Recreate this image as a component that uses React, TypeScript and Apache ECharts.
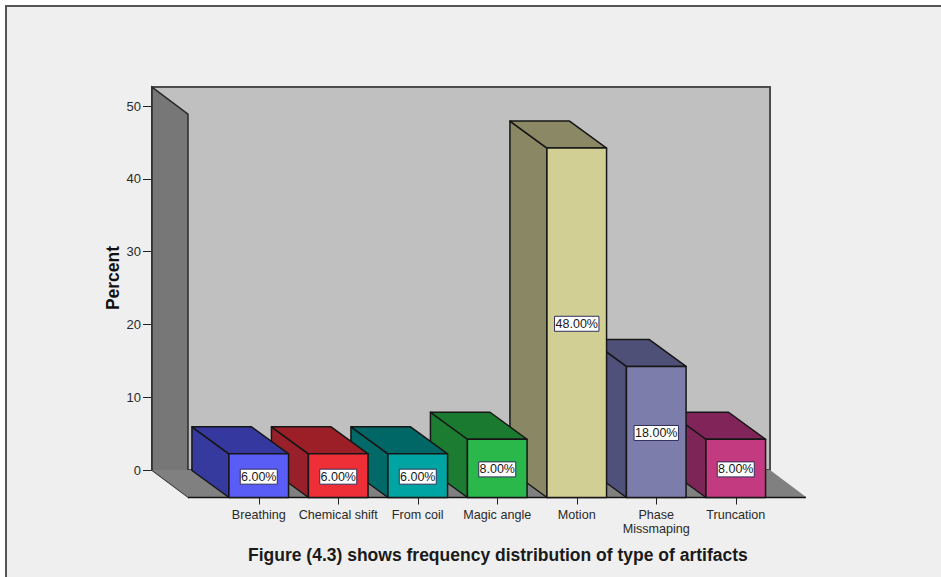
import React, { useEffect, useRef } from "react";
import * as echarts from "echarts";

const categories = ["Breathing", "Chemical shift", "From coil", "Magic angle", "Motion", "Phase\nMissmaping", "Truncation"];
const percentValues = [6, 6, 6, 8, 48, 18, 8];
const valueLabels = ["6.00%", "6.00%", "6.00%", "8.00%", "48.00%", "18.00%", "8.00%"];
const frontColors = ["#5a5cf6", "#ee2f37", "#00a5a3", "#2ab84a", "#d2cf94", "#7c7dab", "#c33a80"];
const topColors = ["#35399f", "#9c1f27", "#006666", "#1a7a30", "#8b8965", "#4f5078", "#80245a"];
const sideColors = ["#363a9e", "#97202a", "#016a68", "#1c7c32", "#8a8864", "#50517a", "#7e2558"];
const chartTitle = "Figure (4.3) shows frequency distribution of type of artifacts";
const yAxisName = "Percent";

// Projection of the box depth on screen, in pixels.
const DEPTH_X = 37;
const DEPTH_Y = 27;
const WALL_DEPTH_X = 36;
// The back wall rises a little above the last tick.
const WALL_TOP_VALUE = 52.6;
const OUTLINE = "#161616";

const renderRoom = (params: any, api: any) => {
  const [, baseY] = api.coord(["room", 0]);
  const [, topY] = api.coord(["room", WALL_TOP_VALUE]);
  const cs = params.coordSys;
  const x0 = cs.x;
  const x1 = cs.x + cs.width;
  return {
    type: "group",
    silent: true,
    children: [
      {
        type: "rect",
        shape: { x: x0, y: topY, width: x1 - x0, height: baseY - topY },
        style: { fill: "#c0c0c0", stroke: "#4c4c4c", lineWidth: 2 },
      },
      {
        type: "polygon",
        shape: { points: [[x0, topY], [x0 + WALL_DEPTH_X, topY + DEPTH_Y], [x0 + WALL_DEPTH_X, baseY + DEPTH_Y], [x0, baseY]] },
        style: { fill: "#777777", stroke: "#2a2a2a", lineWidth: 1.5 },
      },
      {
        type: "polygon",
        shape: { points: [[x0, baseY], [x1, baseY], [x1 + WALL_DEPTH_X, baseY + DEPTH_Y], [x0 + WALL_DEPTH_X, baseY + DEPTH_Y]] },
        style: { fill: "#808080", stroke: "none" },
      },
      {
        type: "line",
        shape: { x1: x0 + WALL_DEPTH_X, y1: baseY + DEPTH_Y + 0.5, x2: x1 + WALL_DEPTH_X, y2: baseY + DEPTH_Y + 0.5 },
        style: { stroke: "#111111", lineWidth: 1.5 },
      },
    ],
  };
};

const renderBox = (_params: any, api: any) => {
  const index = api.value(2);
  const [cx, topY] = api.coord([api.value(0), api.value(1)]);
  const [, baseY] = api.coord([api.value(0), 0]);
  const width = api.size([1, 0])[0] * 0.75;
  const x0 = cx - width / 2;
  const x1 = cx + width / 2;
  const stroke = { stroke: OUTLINE, lineWidth: 1.5, lineJoin: "round" };
  const label = valueLabels[index];
  const labelWidth = label.length * 7.4;
  const labelY = (topY + baseY) / 2 + 1;
  return {
    type: "group",
    children: [
      {
        type: "polygon",
        shape: { points: [[x0, topY], [x0 - DEPTH_X, topY - DEPTH_Y], [x0 - DEPTH_X, baseY - DEPTH_Y], [x0, baseY]] },
        style: { fill: sideColors[index], ...stroke },
      },
      {
        type: "polygon",
        shape: { points: [[x0, topY], [x0 - DEPTH_X, topY - DEPTH_Y], [x1 - DEPTH_X, topY - DEPTH_Y], [x1, topY]] },
        style: { fill: topColors[index], ...stroke },
      },
      {
        type: "rect",
        shape: { x: x0, y: topY, width, height: baseY - topY },
        style: { fill: frontColors[index], ...stroke },
      },
      {
        type: "rect",
        shape: { x: cx - labelWidth / 2, y: labelY - 7.5, width: labelWidth, height: 15 },
        style: { fill: "#ffffff", stroke: "#30305a", lineWidth: 1 },
      },
      {
        type: "text",
        x: cx,
        y: labelY,
        style: {
          text: label,
          fill: "#1a1a1a",
          font: "12.5px 'Liberation Sans'",
          align: "center",
          verticalAlign: "middle",
        },
      },
    ],
  };
};

export default function App() {
  const ref = useRef<HTMLDivElement>(null);

  useEffect(() => {
    document.body.style.margin = "0";
    document.body.style.background = "#ffffff";
    const chart = echarts.init(ref.current!, undefined, { renderer: "svg" });
    // Boxes are painted right to left so each one hides the side of its right neighbour.
    const boxData = categories.map((name, i) => [name, percentValues[i], i]).reverse();
    chart.setOption({
      animation: false,
      backgroundColor: "#ffffff",
      textStyle: { fontFamily: "'Liberation Sans', Arial, sans-serif" },
      title: {
        text: chartTitle,
        left: 248,
        top: 546,
        padding: 0,
        textStyle: { fontFamily: "'Liberation Sans'", fontSize: 17.5, fontWeight: "bold", color: "#1a1a1a" },
      },
      graphic: [
        {
          type: "rect",
          z: -10,
          silent: true,
          shape: { x: 6, y: 6, width: 940, height: 575 },
          style: { fill: "#efefef", stroke: "#555555", lineWidth: 2 },
        },
      ],
      grid: [
        { left: 152, width: 618, top: 106, height: 364 },
        { left: 219, width: 556.5, top: 133.5, height: 364 },
      ],
      xAxis: [
        { gridIndex: 0, type: "category", data: ["room"], show: false },
        {
          gridIndex: 1,
          type: "category",
          data: categories,
          axisLine: { show: false },
          axisTick: { show: true, alignWithLabel: true, length: 7, lineStyle: { color: "#222222", width: 1 } },
          axisLabel: { color: "#2a2a2a", fontSize: 12.6, margin: 10, interval: 0, lineHeight: 14, fontFamily: "'Liberation Sans'" },
        },
      ],
      yAxis: [
        {
          gridIndex: 0,
          type: "value",
          min: 0,
          max: 50,
          interval: 10,
          name: yAxisName,
          nameLocation: "middle",
          nameGap: 30,
          nameRotate: 90,
          nameMoveOverlap: false,
          nameTextStyle: {
            fontFamily: "'Liberation Sans'",
            fontSize: 17.5,
            fontWeight: "bold",
            color: "#111111",
            padding: [0, 0, 0, 20],
          },
          splitLine: { show: false },
          axisLine: { show: false },
          axisTick: { show: true, length: 9, lineStyle: { color: "#222222", width: 1 } },
          axisLabel: { color: "#2a2a2a", fontSize: 13, margin: 11, fontFamily: "'Liberation Sans'" },
        },
        { gridIndex: 1, type: "value", min: 0, max: 50, interval: 10, show: false },
      ],
      series: [
        {
          type: "custom",
          name: "room",
          xAxisIndex: 0,
          yAxisIndex: 0,
          z: 1,
          clip: false,
          renderItem: renderRoom,
          data: [["room", 0]],
        },
        {
          type: "custom",
          name: yAxisName,
          xAxisIndex: 1,
          yAxisIndex: 1,
          z: 2,
          clip: false,
          renderItem: renderBox,
          encode: { x: 0, y: 1 },
          data: boxData,
        },
      ],
    });
    return () => chart.dispose();
  }, []);

  return <div ref={ref} style={{ width: 941, height: 577 }} />;
}
